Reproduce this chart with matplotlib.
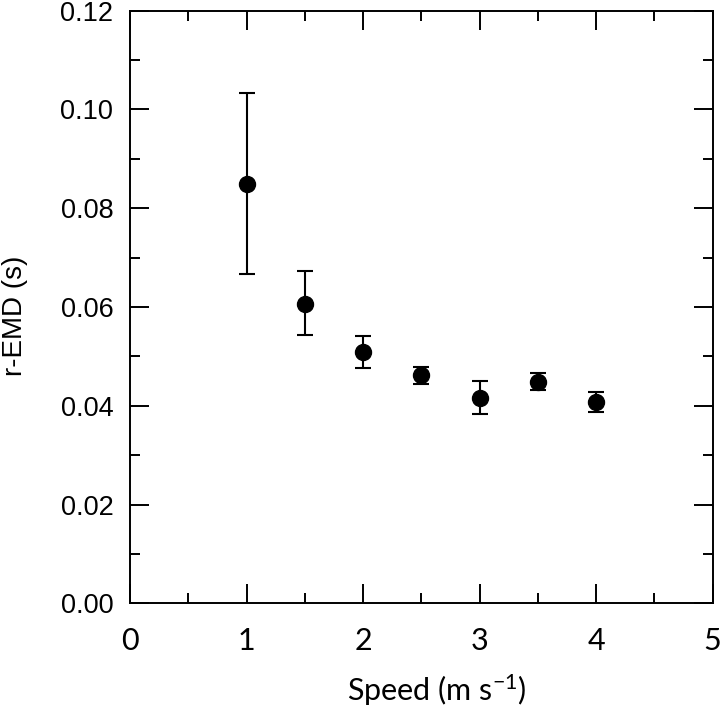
import matplotlib
matplotlib.use("Agg")
import matplotlib.pyplot as plt
from matplotlib.ticker import MultipleLocator

speed = [1.0, 1.5, 2.0, 2.5, 3.0, 3.5, 4.0]
r_emd = [0.0850, 0.0607, 0.0509, 0.0462, 0.0416, 0.0448, 0.0408]
err_hi = [0.1033, 0.0673, 0.0542, 0.0479, 0.0450, 0.0467, 0.0427]
err_lo = [0.0667, 0.0544, 0.0477, 0.0444, 0.0383, 0.0431, 0.0388]

yerr = [[m - lo for m, lo in zip(r_emd, err_lo)],
        [hi - m for m, hi in zip(r_emd, err_hi)]]

plt.rcParams['mathtext.fontset'] = 'custom'
plt.rcParams['mathtext.rm'] = 'Lato'
plt.rcParams['mathtext.it'] = 'Lato'

fig = plt.figure(figsize=(7.2, 7.06), dpi=100)
ax = fig.add_axes([130/720, 1 - 603.3/706, (712.7-130)/720, (603.3-10.7)/706])

ax.errorbar(speed, r_emd, yerr=yerr, fmt='o', color='black', ms=11.5,
            elinewidth=1.5, capsize=5.5, capthick=1.5)

ax.set_xlim(0, 5)
ax.set_ylim(0, 0.12)
ax.xaxis.set_major_locator(MultipleLocator(1))
ax.xaxis.set_minor_locator(MultipleLocator(0.5))
ax.yaxis.set_major_locator(MultipleLocator(0.02))
ax.yaxis.set_minor_locator(MultipleLocator(0.01))
ax.yaxis.set_major_formatter(matplotlib.ticker.FormatStrFormatter('%.2f'))

for s in ax.spines.values():
    s.set_linewidth(1.4)
ax.tick_params(which='both', direction='in', top=True, right=True, width=1.4)
ax.tick_params(which='major', length=13.5)
ax.tick_params(which='minor', length=7)
ax.tick_params(axis='x', which='major', pad=17)
ax.tick_params(axis='y', which='major', pad=12)

for lab in ax.get_xticklabels():
    lab.set_family('Lato')
    lab.set_fontsize(22)
for lab in ax.get_yticklabels():
    lab.set_family('Liberation Sans')
    lab.set_fontsize(19.5)

ax.set_xlabel('Speed (m s$^{-1}$)', family='Lato', fontsize=22)
ax.xaxis.set_label_coords(0.527, -0.116)
ax.set_ylabel('r-EMD (s)', family='Liberation Sans', fontsize=20)
ax.yaxis.set_label_coords(-0.175, 0.485)

fig.savefig('out.png', dpi=100)
